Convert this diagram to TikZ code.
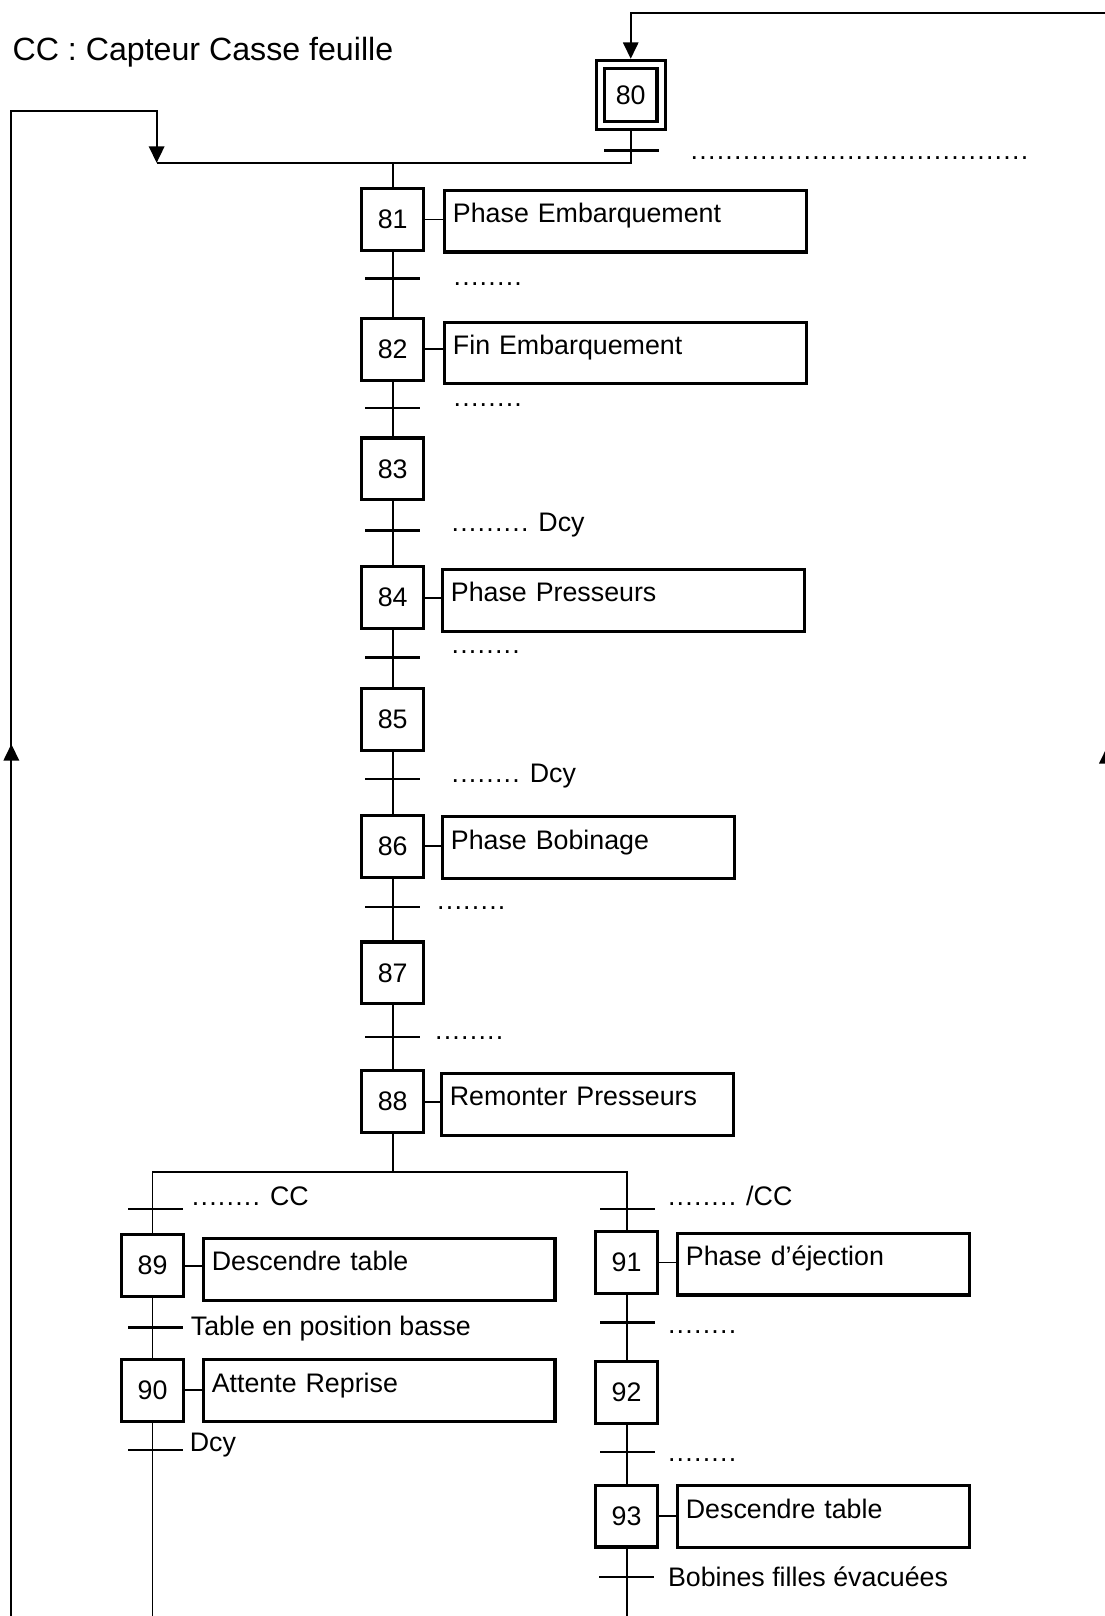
\documentclass[tikz,border=0pt]{standalone}
\usepackage{fontspec}
\setmainfont{Liberation Sans}
\usetikzlibrary{arrows.meta}
\newcommand{\fs}{\fontsize{26}{30}\selectfont}
\newcommand{\pd}[1]{.\foreach \i in {2,...,#1}{\kern1.2pt.}}
\begin{document}
\begin{tikzpicture}[x=1pt,y=-1pt,
  conn/.style={line width=1.8pt},
  arr/.style={line width=1.8pt,-{Triangle[width=15pt,length=16pt]}},
  stp/.style={draw,line width=3pt,minimum size=60pt,inner sep=0pt,font=\fs},
  initstp/.style={draw,double,line width=3pt,double distance=5pt,minimum size=59pt,inner sep=0pt,outer sep=5.5pt,font=\fs},
  act/.style={draw,line width=3pt,anchor=north west,inner xsep=8pt,inner ysep=0pt,text height=31.5pt,text depth=28.5pt,text width=#1,align=left,font=\fs},
  bar/.style={fill=black,minimum width=53pt,minimum height=2.5pt,inner sep=0pt},
  rec/.style={anchor=base west,inner sep=0pt,font=\fs},
]
\useasboundingbox (0,0) rectangle (1072,1568);
\clip (0,0) rectangle (1072,1568);

% title
\node[anchor=base west,inner sep=0pt,font=\fontsize{31.2}{36}\selectfont] (title) at (12,59) {CC : Capteur Casse feuille};

% steps
\node[initstp] (s80) at (612,92) {80};
\node[stp] (s81) at (381,213) {81};
\node[stp] (s82) at (381,339) {82};
\node[stp] (s83) at (381,455) {83};
\node[stp] (s84) at (381,580) {84};
\node[stp] (s85) at (381,698) {85};
\node[stp] (s86) at (381,821) {86};
\node[stp] (s87) at (381,944) {87};
\node[stp] (s88) at (381,1069) {88};
\node[stp] (s89) at (148,1228) {89};
\node[stp] (s90) at (148,1349) {90};
\node[stp] (s91) at (608,1225) {91};
\node[stp] (s92) at (608,1351) {92};
\node[stp] (s93) at (608,1471) {93};

% actions
\node[act=335pt] (a81) at (430,183) {Phase Embarquement};
\node[act=335pt] (a82) at (430,311) {Fin Embarquement};
\node[act=335pt] (a84) at (428,551) {Phase Presseurs};
\node[act=267pt] (a86) at (428,791) {Phase Bobinage};
\node[act=267pt] (a88) at (427,1040) {Remonter Presseurs};
\node[act=325pt] (a89) at (196,1200) {Descendre table};
\node[act=325pt] (a90) at (196,1318) {Attente Reprise};
\node[act=267pt] (a91) at (656,1195) {Phase d'éjection};
\node[act=267pt] (a93) at (656,1440) {Descendre table};

\foreach \s in {81,82,84,86,88,89,90,91,93}
  \draw[conn] (s\s.east) -- (s\s.east -| a\s.west);

% coordinates
\coordinate (rtop) at (1074,13);
\coordinate (top80) at (612,13);
\coordinate (j80) at (612,158);
\coordinate (jsp) at (381,158);
\coordinate (jl) at (152,158);
\coordinate (lbot) at (11,1572);
\coordinate (ltop) at (11,108);
\coordinate (lcorner) at (152,108);
\coordinate (lam) at (11,760);
\coordinate (lat) at (11,722);
\coordinate (ram) at (1074,765);
\coordinate (rat) at (1074,725);
\coordinate (rbot) at (1074,1572);
\coordinate (d) at (381,1137);
\coordinate (dl) at (148,1137);
\coordinate (dr) at (608,1137);
\coordinate (bl) at (148,1572);
\coordinate (br) at (608,1572);

% connectors
\draw[arr] (rtop) -- (top80) -- (s80.north);
\draw[conn] (rtop) -- (rbot);
\draw[arr] (ram) -- (rat);
\draw[conn] (s80.south) -- (j80) -- (jl);
\draw[arr] (lbot) -- (ltop) -- (lcorner) -- (jl);
\draw[arr] (lam) -- (lat);
\draw[conn] (jsp) -- (s81.north);
\draw[conn] (s81) -- (s82);
\draw[conn] (s82) -- (s83);
\draw[conn] (s83) -- (s84);
\draw[conn] (s84) -- (s85);
\draw[conn] (s85) -- (s86);
\draw[conn] (s86) -- (s87);
\draw[conn] (s87) -- (s88);
\draw[conn] (s88.south) -- (d);
\draw[conn] (s89.north) -- (dl) -- (dr) -- (s91.north);
\draw[conn] (s89) -- (s90);
\draw[conn] (s90.south) -- (bl);
\draw[conn] (s91) -- (s92);
\draw[conn] (s92) -- (s93);
\draw[conn] (s93.south) -- (br);

% transitions
\node[bar] (t80) at (613,146) {};
\node[bar] (t81) at (381,270) {};
\node[bar] (t82) at (381,396) {};
\node[bar] (t83) at (381,515) {};
\node[bar] (t84) at (381,638) {};
\node[bar] (t85) at (381,756) {};
\node[bar] (t86) at (381,880) {};
\node[bar] (t87) at (381,1006) {};
\node[bar] (tcc) at (151,1173) {};
\node[bar] (t89) at (151,1288) {};
\node[bar] (t90) at (151,1407) {};
\node[bar] (tncc) at (609,1173) {};
\node[bar] (t91) at (609,1283) {};
\node[bar] (t92) at (609,1409) {};
\node[bar] (t93) at (608,1530) {};

% receptivities
\node[rec] (r80) at (670,155) {\pd{39}};
\node[rec] (r81) at (440,277) {\pd{8}};
\node[rec] (r82) at (440,394) {\pd{8}};
\node[rec] (r83) at (438,516) {\pd{9} Dcy};
\node[rec] (r84) at (438,634) {\pd{8}};
\node[rec] (r85) at (438,759) {\pd{8} Dcy};
\node[rec] (r86) at (424,882) {\pd{8}};
\node[rec] (r87) at (422,1009) {\pd{8}};
\node[rec] (rcc) at (186,1170) {\pd{8} CC};
\node[rec] (r89) at (185,1296) {Table en position basse};
\node[rec] (r90) at (184,1408) {Dcy};
\node[rec] (rncc) at (648,1170) {\pd{8} /CC};
\node[rec] (r91) at (648,1294) {\pd{8}};
\node[rec] (r92) at (648,1418) {\pd{8}};
\node[rec] (r93) at (648,1539) {Bobines filles évacuées};
\end{tikzpicture}
\end{document}
